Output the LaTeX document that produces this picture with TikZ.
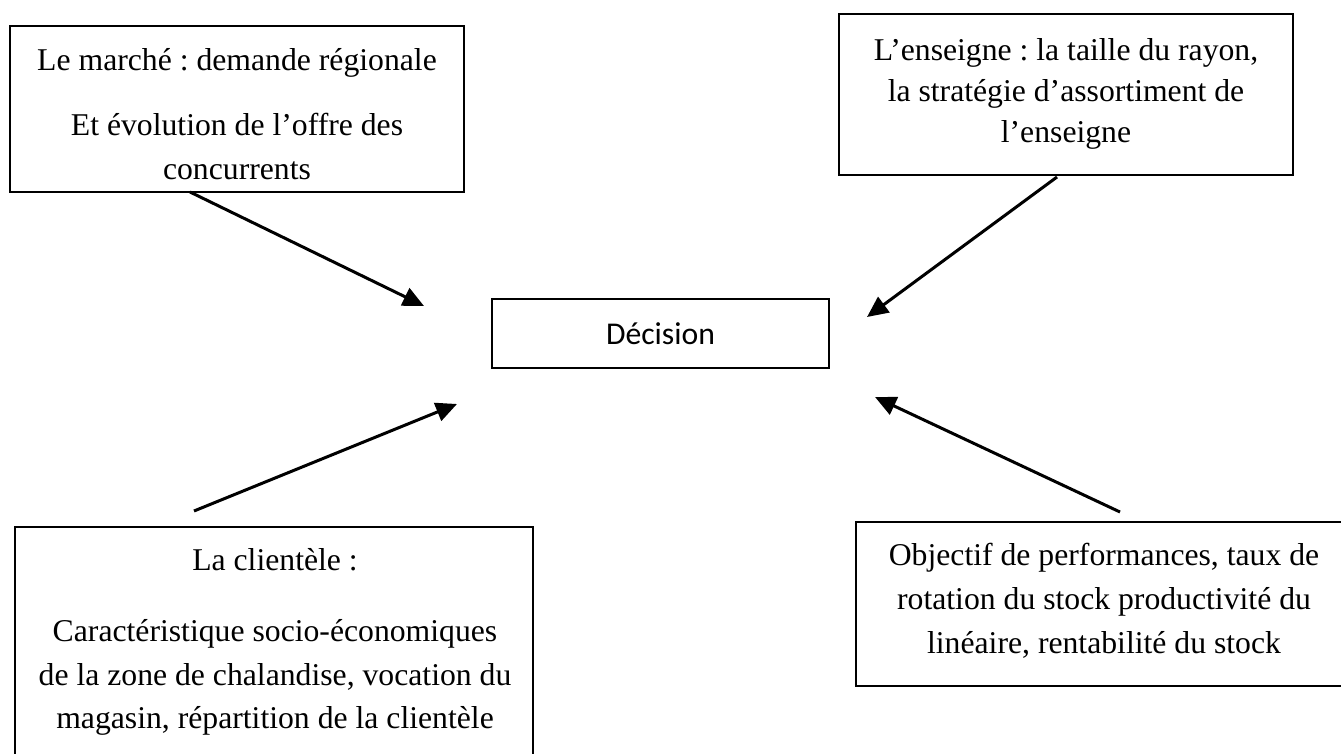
\documentclass[tikz,border=0pt]{standalone}
\usepackage{fontspec}
\setmainfont{Liberation Serif}
\newfontfamily\calibri{Carlito}
\usetikzlibrary{arrows.meta,calc}
\frenchspacing
\begin{document}
\begin{tikzpicture}[x=1pt,y=-1pt,
  frame/.style={draw=black,line width=2pt,inner sep=0pt},
  line/.style={font=\fontsize{31.7}{44}\selectfont,anchor=base,inner sep=0pt},
  link/.style={line width=3pt,-{Triangle[length=21pt,width=19pt]}}]
\useasboundingbox (0,0) rectangle (1341,754);
\clip (0,0) rectangle (1341,754);
\fill[white] (0,0) rectangle (1341,754);

% boxes (the lower two run past the page edge)
\draw[frame] (10,26) rectangle (464,192);
\draw[frame] (839,14) rectangle (1293,175);
\draw[frame] (15,527) rectangle (533,780);
\draw[frame] (856,522) rectangle (1352,686);
\node[frame,minimum width=337pt,minimum height=69pt,anchor=north west,
      font=\calibri\fontsize{31.7}{38}\selectfont] (dec) at (491,298) {Décision};

% market
\node[line] (m1) at (237,71)  {Le marché : demande régionale};
\node[line] (m2) at (237,136) {Et évolution de l’offre des};
\node[line] (m3) at (237,180) {concurrents};
% store
\node[line] (e1) at (1066,61)  {L’enseigne : la taille du rayon,};
\node[line] (e2) at (1066,102) {la stratégie d’assortiment de};
\node[line] (e3) at (1066,143) {l’enseigne};
% customers
\node[line] (c1) at (275,570) {La clientèle :};
\node[line] (c2) at (275,641) {Caractéristique socio-économiques};
\node[line] (c3) at (275,685) {de la zone de chalandise, vocation du};
\node[line] (c4) at (275,728) {magasin, répartition de la clientèle};
% objectives
\node[line] (o1) at (1104,565) {Objectif de performances, taux de};
\node[line] (o2) at (1104,609) {rotation du stock productivité du};
\node[line] (o3) at (1104,653) {linéaire, rentabilité du stock};

% arrow ends
\coordinate (a1s) at (190,192);  \coordinate (a1e) at (424,306);
\coordinate (a2s) at (1057,177); \coordinate (a2e) at (867,317);
\coordinate (a3s) at (194,511);  \coordinate (a3e) at (457,404);
\coordinate (a4s) at (1120,512); \coordinate (a4e) at (875,397);
\draw[link] (a1s) -- (a1e);
\draw[link] (a2s) -- (a2e);
\draw[link] (a3s) -- (a3e);
\draw[link] (a4s) -- (a4e);
\end{tikzpicture}
\end{document}
